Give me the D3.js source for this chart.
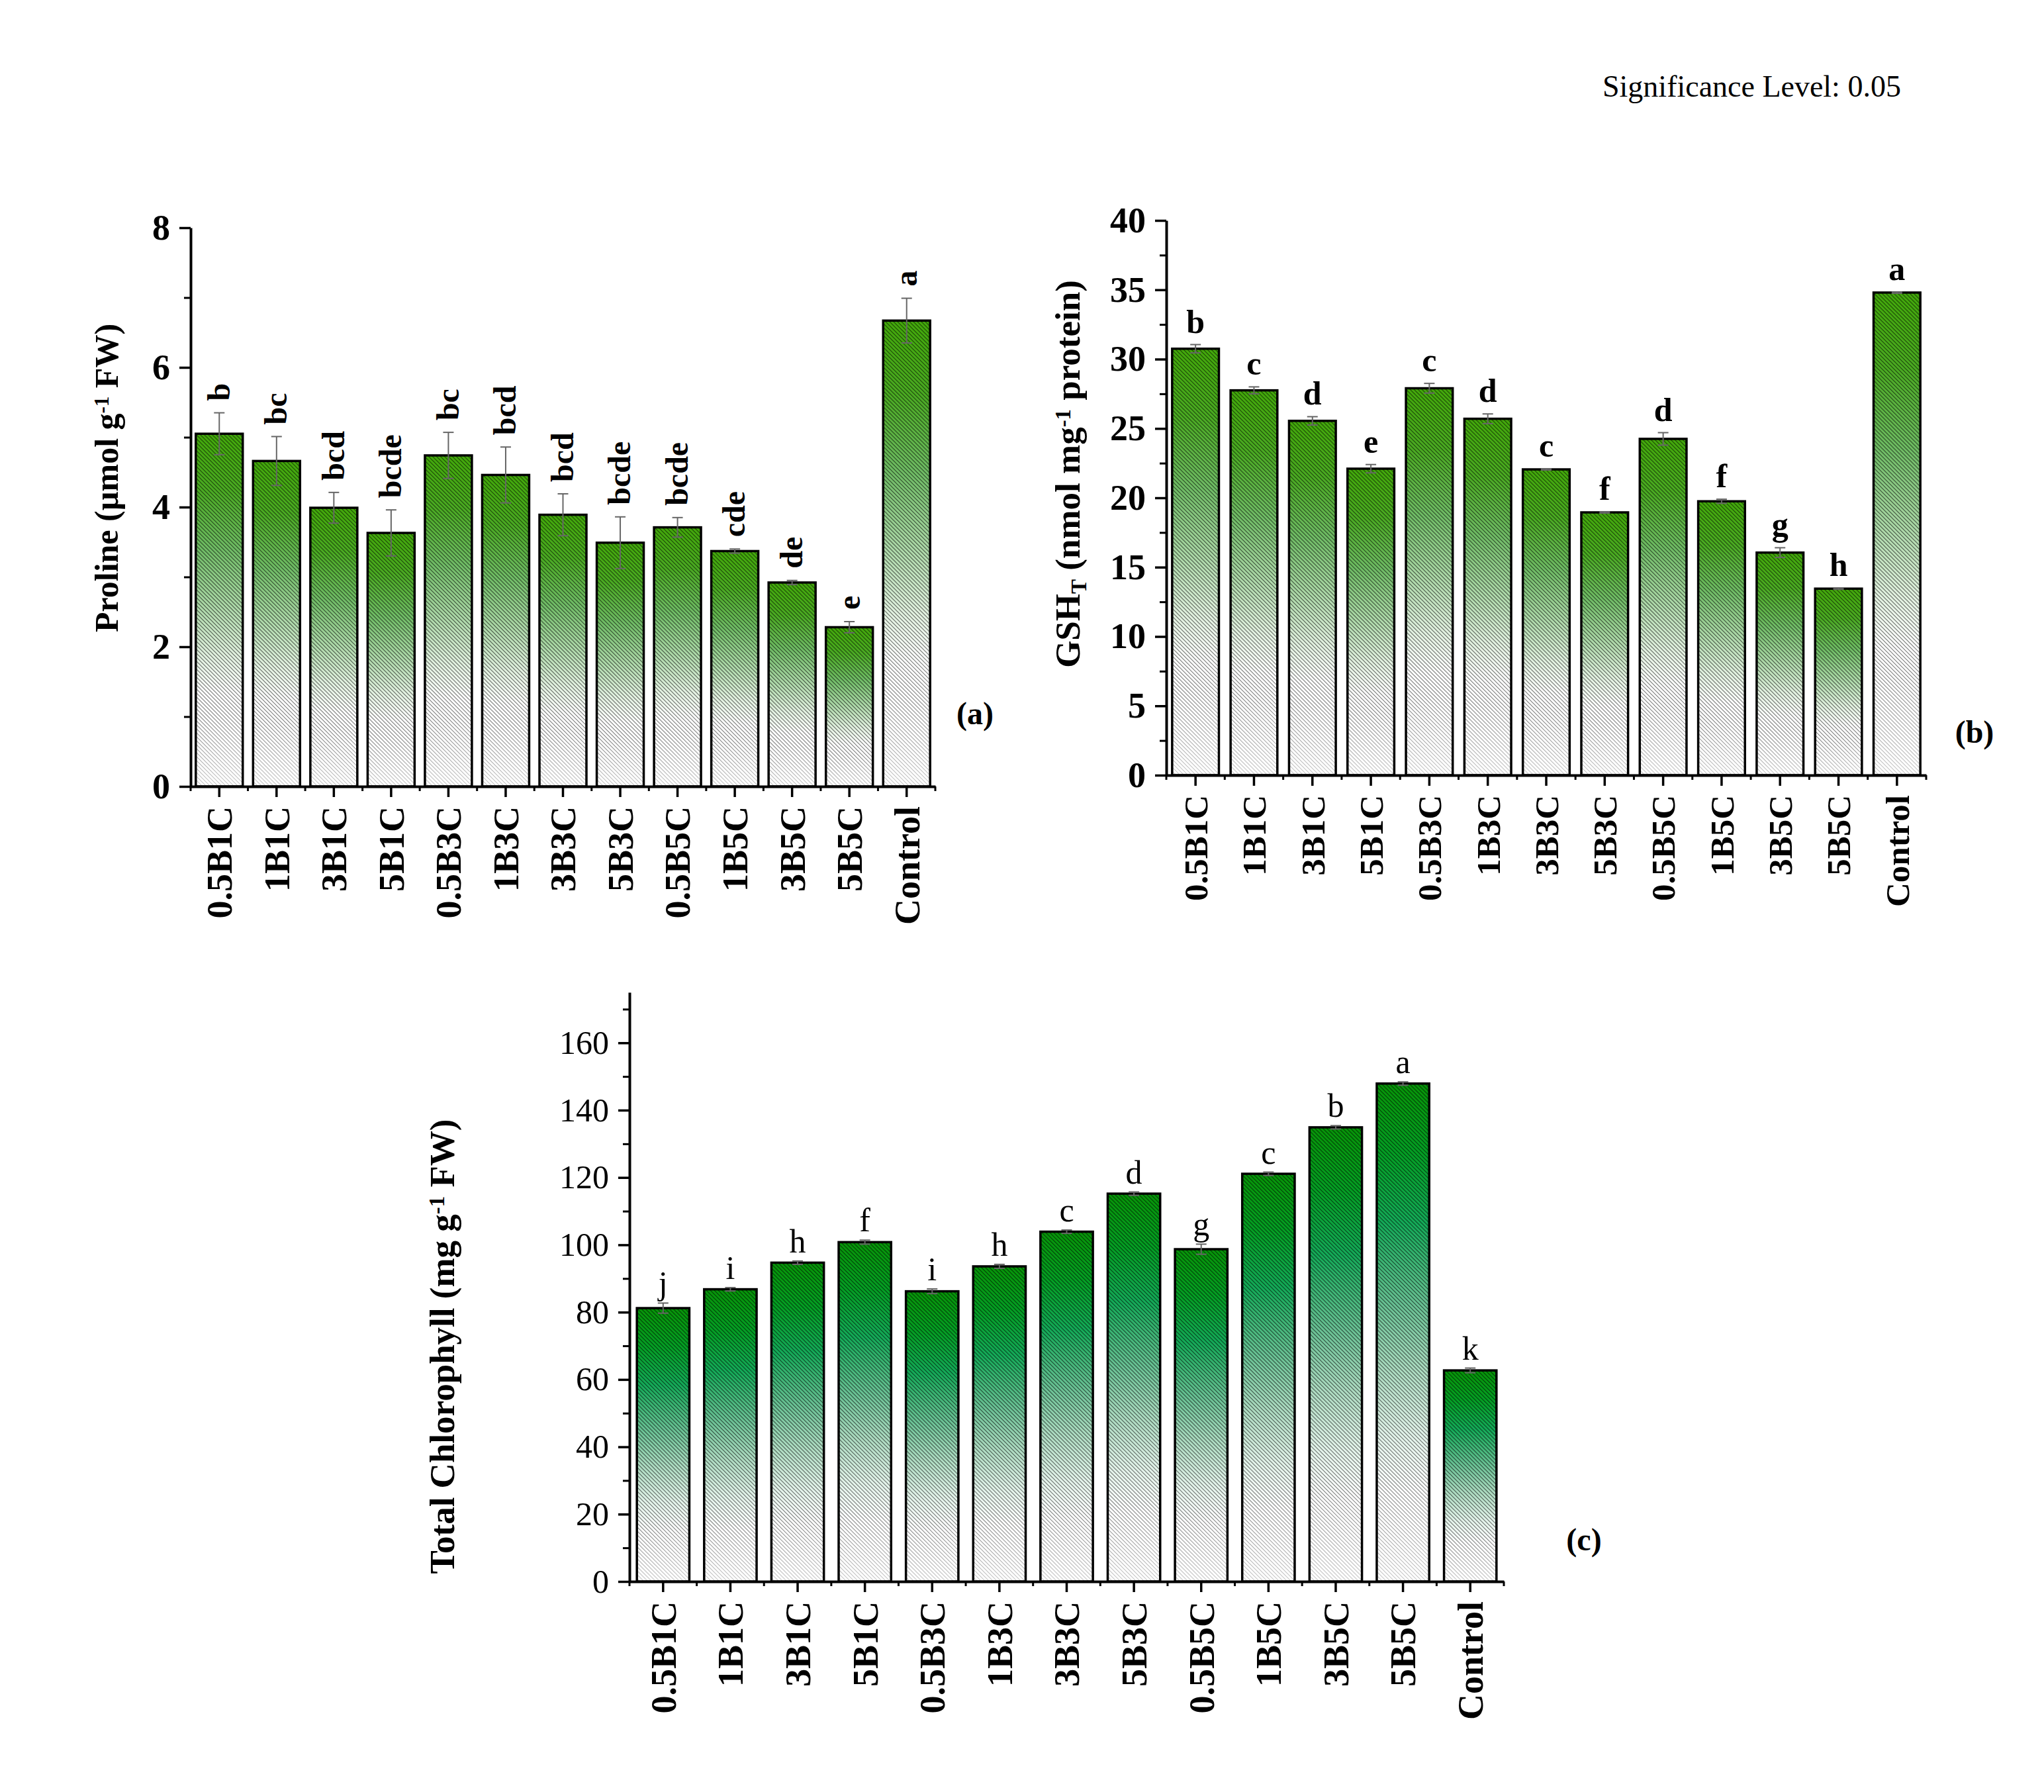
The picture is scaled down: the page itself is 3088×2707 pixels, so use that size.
<!DOCTYPE html>
<html>
<head>
<meta charset="utf-8">
<script src="https://cdn.jsdelivr.net/npm/d3@7"></script>
<style>
  body { margin: 0; background: #fff; }
  svg { display: block; }
</style>
</head>
<body>
<div id="chart"></div>
<script>

// treatments, same order in all three panels
var categories = ["0.5B1C", "1B1C", "3B1C", "5B1C", "0.5B3C", "1B3C", "3B3C", "5B3C", "0.5B5C", "1B5C", "3B5C", "5B5C", "Control"];

// (a) proline
var prolineMean = [5.05, 4.66, 3.99, 3.63, 4.74, 4.46, 3.89, 3.49, 3.71, 3.37, 2.92, 2.28, 6.67];
var prolineErr = [0.30, 0.35, 0.22, 0.33, 0.33, 0.40, 0.30, 0.37, 0.14, 0.03, 0.03, 0.08, 0.32];
var prolineLetters = ["b", "bc", "bcd", "bcde", "bc", "bcd", "bcd", "bcde", "bcde", "cde", "de", "e", "a"];
var prolineTicks = [0, 2, 4, 6, 8];
var prolineMinor = [1, 3, 5, 7];

// (b) total glutathione
var gshMean = [30.75, 27.75, 25.55, 22.1, 27.9, 25.7, 22.05, 18.95, 24.25, 19.75, 16.05, 13.45, 34.8];
var gshErr = [0.30, 0.25, 0.30, 0.30, 0.35, 0.35, 0.05, 0.05, 0.45, 0.15, 0.35, 0.05, 0.05];
var gshLetters = ["b", "c", "d", "e", "c", "d", "c", "f", "d", "f", "g", "h", "a"];
var gshTicks = [0, 5, 10, 15, 20, 25, 30, 35, 40];
var gshMinor = [2.5, 7.5, 12.5, 17.5, 22.5, 27.5, 32.5, 37.5];

// (c) total chlorophyll
var chlMean = [81.2, 86.8, 94.7, 100.8, 86.2, 93.6, 103.9, 115.2, 98.7, 121.1, 134.9, 147.9, 62.7];
var chlErr = [1.5, 0.5, 0.5, 0.6, 0.7, 0.6, 0.5, 0.5, 1.5, 0.5, 0.5, 0.5, 0.7];
var chlLetters = ["j", "i", "h", "f", "i", "h", "c", "d", "g", "c", "b", "a", "k"];
var chlTicks = [0, 20, 40, 60, 80, 100, 120, 140, 160];
var chlMinor = [10, 30, 50, 70, 90, 110, 130, 150, 170];

var serif = "'Liberation Serif', 'Times New Roman', Times, serif";

var svg = d3.select("#chart").append("svg")
  .attr("width", 3088)
  .attr("height", 2707)
  .style("font-family", serif);

svg.append("rect").attr("width", 3088).attr("height", 2707).attr("fill", "#fff");

var defs = svg.append("defs");

function addGradient(id, stops) {
  var g = defs.append("linearGradient")
    .attr("id", id)
    .attr("x1", 0).attr("y1", 0).attr("x2", 0).attr("y2", 1);
  stops.forEach(function(s){
    g.append("stop").attr("offset", s[0]).attr("stop-color", s[1]);
  });
}

addGradient("greenYellow", [
  [0, "#42a80a"], [0.16, "#4aaa22"], [0.33, "#70bc66"],
  [0.50, "#b0daac"], [0.63, "#e2f1e0"], [0.74, "#ffffff"], [1, "#ffffff"]
]);
addGradient("greenTeal", [
  [0, "#079408"], [0.14, "#049e24"], [0.28, "#14aa58"],
  [0.44, "#66c092"], [0.58, "#addbc1"], [0.71, "#e3f3ea"], [0.82, "#ffffff"], [1, "#ffffff"]
]);

// hatch "\" lines
var hatch = defs.append("pattern")
  .attr("id", "hatch")
  .attr("patternUnits", "userSpaceOnUse")
  .attr("width", 6).attr("height", 6);
hatch.append("path")
  .attr("d", "M-1,-1 L7,7 M-1,5 L1,7 M5,-1 L7,1")
  .attr("stroke", "#000")
  .attr("stroke-width", 1.2);

// fade the hatch towards the bar base
var fade = defs.append("linearGradient")
  .attr("id", "fadeGrad")
  .attr("x1", 0).attr("y1", 0).attr("x2", 0).attr("y2", 1);
fade.append("stop").attr("offset", 0).attr("stop-color", "#8a8a8a");
fade.append("stop").attr("offset", 0.5).attr("stop-color", "#959595");
fade.append("stop").attr("offset", 0.8).attr("stop-color", "#7a7a7a");
fade.append("stop").attr("offset", 1).attr("stop-color", "#333");
defs.append("mask")
  .attr("id", "hatchFade")
  .attr("maskContentUnits", "objectBoundingBox")
  .append("rect")
  .attr("width", 1).attr("height", 1)
  .attr("fill", "url(#fadeGrad)");

function drawPanel(p) {

  var g = svg.append("g");

  var x = d3.scaleBand()
    .domain(categories)
    .range([p.left, p.right])
    .paddingInner(p.pad)
    .paddingOuter(p.pad / 2);

  var y = d3.scaleLinear()
    .domain(p.domain)
    .range([p.bottom, p.top]);

  var bars = g.selectAll(".bar")
    .data(categories)
    .enter().append("g")
    .attr("class", "bar");

  bars.append("rect")
    .attr("x", function(d){ return x(d); })
    .attr("y", function(d, i){ return y(p.mean[i]); })
    .attr("width", x.bandwidth())
    .attr("height", function(d, i){ return y(0) - y(p.mean[i]); })
    .attr("fill", "url(#" + p.gradient + ")");

  bars.append("rect")
    .attr("x", function(d){ return x(d); })
    .attr("y", function(d, i){ return y(p.mean[i]); })
    .attr("width", x.bandwidth())
    .attr("height", function(d, i){ return y(0) - y(p.mean[i]); })
    .attr("fill", "url(#hatch)")
    .attr("mask", "url(#hatchFade)");

  bars.append("rect")
    .attr("x", function(d){ return x(d); })
    .attr("y", function(d, i){ return y(p.mean[i]); })
    .attr("width", x.bandwidth())
    .attr("height", function(d, i){ return y(0) - y(p.mean[i]); })
    .attr("fill", "none")
    .attr("stroke", "#000")
    .attr("stroke-width", 3.5);

  // error bars
  var cx = function(d){ return x(d) + x.bandwidth() / 2; };
  var err = g.append("g")
    .attr("stroke", "#666")
    .attr("stroke-width", 2);

  categories.forEach(function(d, i){
    var hi = y(p.mean[i] + p.err[i]), lo = y(p.mean[i] - p.err[i]);
    err.append("line").attr("x1", cx(d)).attr("x2", cx(d)).attr("y1", hi).attr("y2", lo);
    err.append("line").attr("x1", cx(d) - 8).attr("x2", cx(d) + 8).attr("y1", hi).attr("y2", hi);
    err.append("line").attr("x1", cx(d) - 8).attr("x2", cx(d) + 8).attr("y1", lo).attr("y2", lo);
  });

  // significance letters
  var letters = g.selectAll(".letter")
    .data(categories)
    .enter().append("text")
    .attr("class", "letter")
    .style("font-size", p.letterSize + "px")
    .style("font-weight", p.letterWeight)
    .text(function(d, i){ return p.letters[i]; });

  if (p.rotateLetters) {
    letters
      .attr("text-anchor", "start")
      .attr("dy", "0.32em")
      .attr("transform", function(d, i){
        return "translate(" + cx(d) + "," + (y(p.mean[i] + p.err[i]) - p.letterGap) + ") rotate(-90)";
      });
  } else {
    letters
      .attr("text-anchor", "middle")
      .attr("x", cx)
      .attr("y", function(d, i){ return y(p.mean[i] + p.err[i]) - p.letterGap; });
  }

  // y axis, major and minor ticks
  var yAxis = d3.axisLeft(y)
    .tickValues(p.ticks)
    .tickSize(17)
    .tickSizeOuter(0)
    .tickPadding(14);

  var yg = g.append("g")
    .attr("transform", "translate(" + p.left + ",0)")
    .call(yAxis);
  yg.select(".domain").attr("stroke-width", 4);
  yg.selectAll(".tick line").attr("stroke-width", 3.5);
  yg.selectAll(".tick text")
    .style("font-family", serif)
    .style("font-size", p.tickSize + "px")
    .style("font-weight", p.tickWeight)
    .attr("fill", "#000");

  g.append("g")
    .attr("transform", "translate(" + p.left + ",0)")
    .call(d3.axisLeft(y).tickValues(p.minor).tickSize(10).tickFormat(""))
    .call(function(s){
      s.select(".domain").remove();
      s.selectAll(".tick line").attr("stroke-width", 3);
    });

  // x axis
  var xAxis = d3.axisBottom(x)
    .tickSize(16)
    .tickSizeOuter(0)
    .tickPadding(0);

  var xg = g.append("g")
    .attr("transform", "translate(0," + p.bottom + ")")
    .call(xAxis);
  xg.select(".domain").attr("stroke-width", 4);
  xg.selectAll(".tick line").attr("stroke-width", 3.5);
  xg.selectAll(".tick text")
    .style("font-family", serif)
    .style("font-size", p.catSize + "px")
    .style("font-weight", "bold")
    .attr("fill", "#000")
    .attr("text-anchor", "end")
    .attr("x", -30)
    .attr("y", 0)
    .attr("dy", "0.35em")
    .attr("transform", "rotate(-90)");

  // short ticks between the bars
  var edges = categories.map(function(d){ return x(d) - x.step() * x.paddingInner() / 2; });
  edges.push(p.right);
  xg.selectAll(".edge")
    .data(edges)
    .enter().append("line")
    .attr("class", "edge")
    .attr("x1", function(d){ return d; })
    .attr("x2", function(d){ return d; })
    .attr("y1", 0)
    .attr("y2", 7)
    .attr("stroke", "#000")
    .attr("stroke-width", 3);

  // axis title
  var title = g.append("text")
    .attr("text-anchor", "middle")
    .attr("transform", "translate(" + p.titleX + "," + p.titleY + ") rotate(-90)")
    .style("font-size", p.titleSize + "px")
    .style("font-weight", "bold");
  p.title.forEach(function(part){
    var t = title.append("tspan").text(part.text);
    if (part.sup) t.attr("dy", "-0.45em").style("font-size", "0.62em");
    if (part.sub) t.attr("dy", "0.3em").style("font-size", "0.62em");
    if (part.back) t.attr("dy", part.back);
  });

  g.append("text")
    .attr("x", p.labelX)
    .attr("y", p.labelY)
    .attr("text-anchor", "middle")
    .style("font-size", "48px")
    .style("font-weight", "bold")
    .text(p.label);
}

drawPanel({
  mean: prolineMean, err: prolineErr, letters: prolineLetters,
  ticks: prolineTicks, minor: prolineMinor, domain: [0, 8],
  left: 288, right: 1413, top: 344, bottom: 1188, pad: 0.18,
  gradient: "greenYellow",
  rotateLetters: true, letterSize: 48, letterWeight: "bold", letterGap: 18,
  tickSize: 54, tickWeight: "bold", catSize: 54,
  titleX: 178, titleY: 722, titleSize: 50,
  title: [
    {text: "Proline (µmol g"}, {text: "-1", sup: true}, {text: " FW)", back: "0.28em"}
  ],
  label: "(a)", labelX: 1473, labelY: 1094
});

drawPanel({
  mean: gshMean, err: gshErr, letters: gshLetters,
  ticks: gshTicks, minor: gshMinor, domain: [0, 40],
  left: 1762, right: 2910, top: 333, bottom: 1171, pad: 0.2,
  gradient: "greenYellow",
  rotateLetters: false, letterSize: 50, letterWeight: "bold", letterGap: 18,
  tickSize: 54, tickWeight: "bold", catSize: 51,
  titleX: 1631, titleY: 716, titleSize: 53,
  title: [
    {text: "GSH"}, {text: "T", sub: true}, {text: " (nmol mg", back: "-0.18em"},
    {text: "-1", sup: true}, {text: " protein)", back: "0.28em"}
  ],
  label: "(b)", labelX: 2983, labelY: 1122
});

drawPanel({
  mean: chlMean, err: chlErr, letters: chlLetters,
  ticks: chlTicks, minor: chlMinor, domain: [0, 175],
  left: 951, right: 2272, top: 1499, bottom: 2389, pad: 0.22,
  gradient: "greenTeal",
  rotateLetters: false, letterSize: 50, letterWeight: "normal", letterGap: 13,
  tickSize: 50, tickWeight: "normal", catSize: 54,
  titleX: 686, titleY: 2034, titleSize: 53,
  title: [
    {text: "Total Chlorophyll (mg g"}, {text: "-1", sup: true}, {text: " FW)", back: "0.28em"}
  ],
  label: "(c)", labelX: 2393, labelY: 2342
});

svg.append("text")
  .attr("x", 2421)
  .attr("y", 146)
  .style("font-size", "46px")
  .text("Significance Level: 0.05");

</script>
</body>
</html>
